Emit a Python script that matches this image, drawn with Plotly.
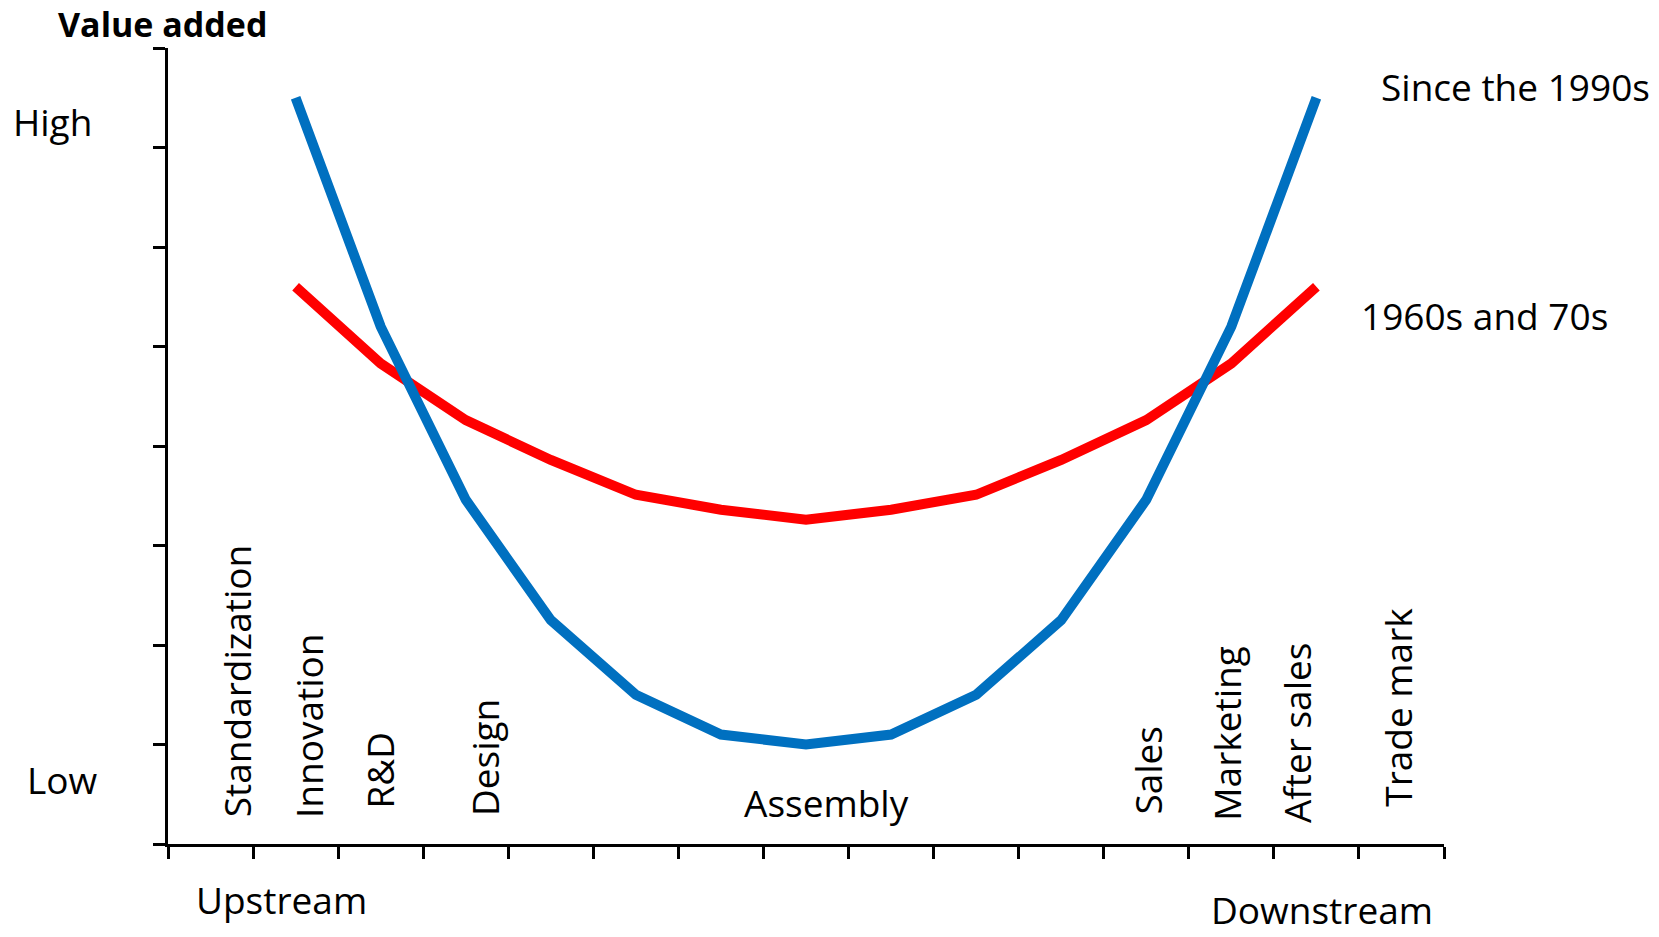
import plotly.graph_objects as go

# Data
stage_x = [1.5, 2.5, 3.5, 4.5, 5.5, 6.5, 7.5, 8.5, 9.5, 10.5, 11.5, 12.5, 13.5]
since_1990s = [7.5, 5.2, 3.46, 2.25, 1.5, 1.1, 1.0, 1.1, 1.5, 2.25, 3.46, 5.2, 7.5]
s1960s_70s = [5.6, 4.83, 4.26, 3.86, 3.51, 3.36, 3.26, 3.36, 3.51, 3.86, 4.26, 4.83, 5.6]

stage_labels = ["Standardization", "Innovation", "R&D", "Design",
                "Sales", "Marketing", "After sales", "Trade mark"]
stage_label_x = [0.80, 1.65, 2.49, 3.72, 11.52, 12.45, 13.26, 14.46]
stage_label_y = [0.25, 0.24, 0.34, 0.26, 0.28, 0.21, 0.19, 0.35]

X_MAX, Y_MAX = 15, 8
FONT = "Open Sans"
FS = 37

fig = go.Figure()
fig.add_trace(go.Scatter(x=stage_x, y=s1960s_70s, mode="lines",
                         line=dict(color="#FF0000", width=10),
                         name="1960s and 70s", showlegend=False))
fig.add_trace(go.Scatter(x=stage_x, y=since_1990s, mode="lines",
                         line=dict(color="#0070C0", width=10),
                         name="Since the 1990s", showlegend=False))

annotations = []
for t, x, y in zip(stage_labels, stage_label_x, stage_label_y):
    annotations.append(dict(x=x / X_MAX, y=y / Y_MAX, xref="paper", yref="paper",
                            text=t, textangle=-90,
                            showarrow=False, xanchor="center", yanchor="bottom",
                            font=dict(family=FONT, size=FS, color="black")))

def add_text(text, x, y, xanchor="center", yanchor="middle", bold=False, size=FS):
    annotations.append(dict(x=x / X_MAX, y=y / Y_MAX, xref="paper", yref="paper",
                            text=f"<b>{text}</b>" if bold else text,
                            showarrow=False, xanchor=xanchor, yanchor=yanchor,
                            font=dict(family=FONT, size=size, color="black")))

add_text("Assembly", 7.74, 0.42)
add_text("Upstream", 1.34, -0.56)
add_text("Downstream", 13.57, -0.93, yanchor="bottom")
add_text("High", -1.36, 7.26)
add_text("Low", -1.24, 0.65)
add_text("Value added", -0.07, 8.24, bold=True, size=34)
add_text("Since the 1990s", 14.24, 7.61, xanchor="left")
add_text("1960s and 70s", 14.0, 5.31, xanchor="left")

fig.update_layout(
    width=1659, height=937,
    margin=dict(l=168, r=215, t=48, b=93),
    paper_bgcolor="white", plot_bgcolor="white",
    annotations=annotations,
    xaxis=dict(range=[0, X_MAX], tickmode="linear", tick0=0, dtick=1,
               showticklabels=False, ticks="outside", ticklen=12, tickwidth=3,
               tickcolor="black", showline=True, linecolor="black", linewidth=3,
               showgrid=False, zeroline=False, fixedrange=True),
    yaxis=dict(range=[0, Y_MAX], tickmode="linear", tick0=0, dtick=1,
               showticklabels=False, ticks="outside", ticklen=12, tickwidth=3,
               tickcolor="black", showline=True, linecolor="black", linewidth=3,
               showgrid=False, zeroline=False, fixedrange=True),
)

fig.write_html("out.html", config={"displayModeBar": False},
               post_script="document.body.style.margin='0';document.body.style.overflow='hidden';")
